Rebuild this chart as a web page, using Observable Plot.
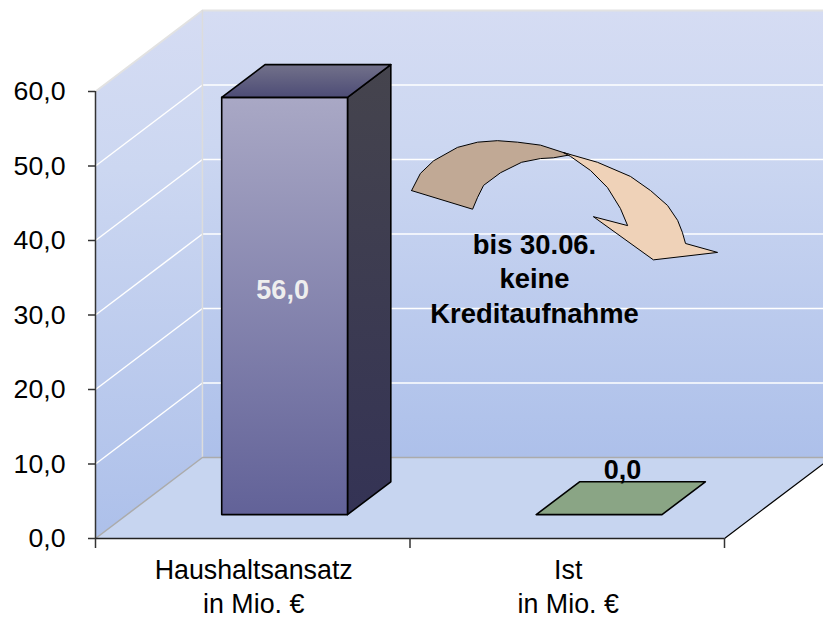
<!DOCTYPE html>
<html><head><meta charset="utf-8">
<style>html,body{margin:0;padding:0;background:#fff;overflow:hidden}</style>
<script src="https://cdn.jsdelivr.net/npm/d3@7"></script>
<script src="https://cdn.jsdelivr.net/npm/@observablehq/plot@0.6"></script>
</head><body>
<svg width="0" height="0" style="position:absolute">
<defs>
<linearGradient id="wall" x1="0" y1="0" x2="0" y2="1"><stop offset="0" stop-color="#d5dcf3"/><stop offset="0.3" stop-color="#ccd7f1"/><stop offset="1" stop-color="#adc0ea"/></linearGradient>
<linearGradient id="front" x1="0" y1="0" x2="0" y2="1"><stop offset="0" stop-color="#a9a8c5"/><stop offset="1" stop-color="#626298"/></linearGradient>
<linearGradient id="side" x1="0" y1="0" x2="0" y2="1"><stop offset="0" stop-color="#45444d"/><stop offset="1" stop-color="#343355"/></linearGradient>
<linearGradient id="top" x1="0" y1="0" x2="0" y2="1"><stop offset="0" stop-color="#72718a"/><stop offset="1" stop-color="#4d4c76"/></linearGradient>
</defs></svg>
<div id="chart"></div>
<script>
// Chart data
const categories = ["Haushaltsansatz\nin Mio. €", "Ist\nin Mio. €"];
const values = [56.0, 0.0];
const valueLabels = ["56,0", "0,0"];
const valueLabelX = [0.595, 1.676];
const valueLabelY = [33.3, 9.13];
const yTicks = [0, 10, 20, 30, 40, 50, 60];
const noteText = "bis 30.06.\nkeine\nKreditaufnahme";
// Curved arrow annotation, in chart units [category position, value]
const arrowBack = [[1.005,46.7],[1.033,49.0],[1.075,50.7],[1.151,52.5],[1.215,53.2],[1.278,53.4],[1.342,53.2],[1.415,52.8],[1.510,51.5],[1.456,51.1],[1.415,51.0],[1.355,50.5],[1.288,49.1],[1.234,47.4],[1.215,45.8],[1.199,44.2],[1.005,46.7]];
const arrowHead = [[1.488,51.8],[1.596,50.5],[1.701,48.6],[1.765,46.7],[1.819,44.7],[1.851,42.7],[1.866,41.1],[1.876,39.6],[1.978,38.4],[1.774,37.4],[1.583,43.2],[1.692,42.0],[1.669,44.3],[1.628,47.1],[1.574,49.4],[1.510,51.3],[1.488,51.8]];

// Oblique 3D projection: depth 0 (front) .. 1 (back wall)
const kx = 0.340, ky = 10.87;
const P = (x, v, d = 0) => [x + d * kx, v + d * ky];
const poly = (pts) => pts.concat([pts[0]]);
const face = (pts, o) => Plot.line(poly(pts), {x: d => d[0], y: d => d[1], strokeLinejoin: "round", ...o});

const d0 = 0.295, d1 = 0.70, xMax = 2, yMax = 60;
const fmt = v => v.toFixed(1).replace(".", ",");

const bars = values.flatMap((v, i) => {
  const l = i + 0.301, r = i + 0.701;
  const s = {stroke: "#000", strokeWidth: 1.6};
  const fTop = v > 0 ? "url(#top)" : "#8aa585";
  const out = [];
  if (v > 0) {
    out.push(face([P(r,0,d0),P(r,0,d1),P(r,v,d1),P(r,v,d0)], {fill: "url(#side)", ...s}));
    out.push(face([P(l,0,d0),P(r,0,d0),P(r,v,d0),P(l,v,d0)], {fill: "url(#front)", ...s}));
  }
  out.push(face([P(l,v,d0),P(r,v,d0),P(r,v,d1),P(l,v,d1)], {fill: fTop, ...s}));
  return out;
});

const chart = Plot.plot({
  width: 823, height: 621,
  marginLeft: 95, marginRight: 99, marginTop: 91, marginBottom: 83,
  x: {type: "linear", domain: [0, xMax]},
  y: {type: "linear", domain: [0, yMax]},
  style: {fontFamily: "'Liberation Sans', Arial, sans-serif", background: "#fff", color: "#000", overflow: "hidden"},
  marks: [
    // walls and floor
    face([P(0,0,1),P(xMax,0,1),P(xMax,yMax,1),P(0,yMax,1)], {fill: "url(#wall)"}),
    face([P(0,0,0),P(0,0,1),P(0,yMax,1),P(0,yMax,0)], {fill: "url(#wall)"}),
    face([P(0,0,0),P(xMax,0,0),P(xMax,0,1),P(0,0,1)], {fill: "#c7d5f0"}),
    // gridlines
    Plot.link(yTicks.slice(1, -1), {x1: () => kx, x2: () => xMax + kx, y1: d => d + ky, y2: d => d + ky, stroke: "#fff", strokeWidth: 1.5}),
    Plot.link(yTicks.slice(1, -1), {x1: () => 0, x2: () => kx, y1: d => d, y2: d => d + ky, stroke: "#fff", strokeWidth: 1.5}),
    // wall edges
    Plot.line([P(0,yMax,0),P(0,yMax,1),P(xMax,yMax,1)], {x: d => d[0], y: d => d[1], stroke: "#e2e2e2", strokeWidth: 2}),
    Plot.line([P(0,yMax,1),P(0,0,1)], {x: d => d[0], y: d => d[1], stroke: "#dcdcdc", strokeWidth: 1.5}),
    Plot.line([P(0,0,0),P(0,0,1),P(xMax,0,1)], {x: d => d[0], y: d => d[1], stroke: "#ababab", strokeWidth: 1.5}),
    Plot.line([P(xMax,0,0),P(xMax,0,1)], {x: d => d[0], y: d => d[1], stroke: "#000", strokeWidth: 1.2}),
    // bars
    ...bars,
    // arrow
    face(arrowBack, {fill: "#c1a995", stroke: "#000", strokeWidth: 1}),
    face(arrowHead, {fill: "#efd2b8", stroke: "#000", strokeWidth: 1}),
    // axes
    Plot.ruleX([0], {y1: 0, y2: yMax, stroke: "#333", strokeWidth: 1.5}),
    Plot.ruleY([0], {x1: 0, x2: xMax, stroke: "#222", strokeWidth: 1.5}),
    Plot.axisY({ticks: yTicks, tickFormat: fmt, tickSize: 7, tickPadding: 23, fontSize: 26.7, stroke: "#333", strokeWidth: 1.5, label: null}),
    Plot.axisX({ticks: d3.range(0, xMax + 1), tickFormat: () => "", tickSize: 10, stroke: "#333", strokeWidth: 1.5, label: null}),
    // texts
    Plot.text(categories, {x: (d, i) => i + 0.503, y: () => -6.28, text: d => d, fontSize: 26.8, lineHeight: 1.27, fill: "#000", lineAnchor: "middle"}),
    Plot.text(valueLabels, {x: (d, i) => valueLabelX[i], y: (d, i) => valueLabelY[i], text: d => d, fontSize: 27, fontWeight: "bold", fill: (d, i) => i === 0 ? "#eeeeee" : "#000", lineAnchor: "middle"}),
    Plot.text([noteText], {x: () => 1.396, y: () => 35.08, text: d => d, fontSize: 27.4, fontWeight: "bold", lineHeight: 1.26, fill: "#000", lineAnchor: "middle"})
  ]
});
document.getElementById("chart").appendChild(chart);
</script>
</body></html>
